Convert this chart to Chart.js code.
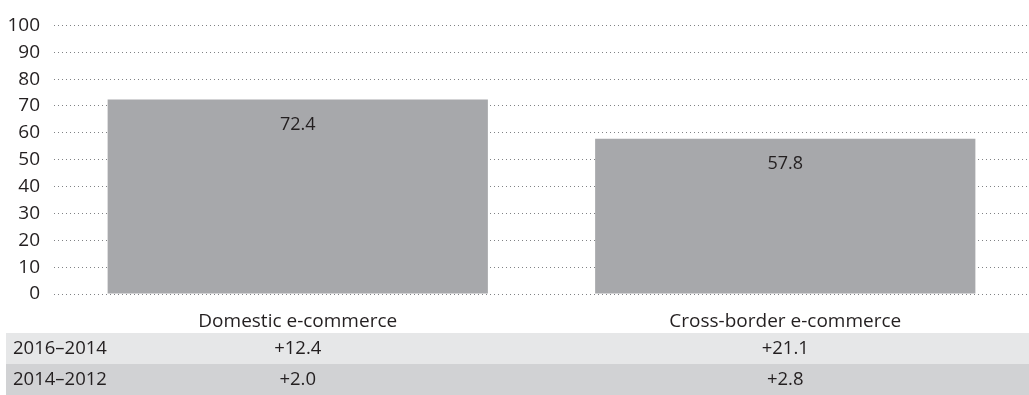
<!DOCTYPE html>
<html>
<head>
<meta charset="utf-8">
<script src="https://cdn.jsdelivr.net/npm/chart.js@4.4.1/dist/chart.umd.min.js"></script>
<style>
  html, body { margin: 0; padding: 0; background: #fff; }
  #wrap { width: 1029px; height: 395px; position: relative; }
</style>
</head>
<body>
<div id="wrap"><canvas id="chart1"></canvas></div>
<script>
  var categorias = ['Domestic e-commerce', 'Cross-border e-commerce']
  var valores = [72.4, 57.8]
  var periodos = ['2016–2014', '2014–2012']
  var variacao_16_14 = ['+12.4', '+21.1']
  var variacao_14_12 = ['+2.0', '+2.8']
  var linhas = [variacao_16_14, variacao_14_12]

  var fonte = "'Open Sans', sans-serif"
  var corTexto = '#231f20'

  // rotulo de valor dentro da barra, perto do topo
  const rotulos = {
    id: 'rotulos',
    afterDatasetsDraw(chart) {
      const ctx = chart.ctx
      const meta = chart.getDatasetMeta(0)
      ctx.save()
      ctx.font = '18px ' + fonte
      ctx.fillStyle = corTexto
      ctx.textAlign = 'center'
      ctx.textBaseline = 'middle'
      meta.data.forEach(function (bar, i) {
        ctx.fillText(valores[i].toFixed(1), bar.x, bar.y + 25)
      })
      ctx.restore()
    }
  }

  // tabela de variacao embaixo do grafico
  const tabela = {
    id: 'tabela',
    afterDraw(chart) {
      const ctx = chart.ctx
      const x = chart.scales.x
      const alturaLinha = 31
      const topo = chart.height - alturaLinha * 2
      const cores = ['#e6e7e8', '#d1d2d4']
      ctx.save()
      ctx.font = '18.5px ' + fonte
      ctx.textBaseline = 'middle'
      periodos.forEach(function (p, r) {
        var y = topo + r * alturaLinha
        ctx.fillStyle = cores[r]
        ctx.fillRect(6, y, chart.width - 6, alturaLinha)
        ctx.fillStyle = corTexto
        ctx.textAlign = 'left'
        ctx.fillText(p, 13, y + alturaLinha / 2)
        ctx.textAlign = 'center'
        linhas[r].forEach(function (v, i) {
          ctx.fillText(v, x.getPixelForValue(i), y + alturaLinha / 2)
        })
      })
      ctx.restore()
    }
  }

  const data = {
    labels: categorias,
    datasets: [{
      data: valores,
      backgroundColor: '#a7a8ab',
      borderWidth: 0,
      barPercentage: 0.78,
      categoryPercentage: 1
    }]
  }

  const config = {
    type: 'bar',
    data,
    options: {
      responsive: true,
      maintainAspectRatio: false,
      animation: false,
      layout: { padding: { top: 16, right: 0, left: 0, bottom: 0 } },
      plugins: {
        legend: { display: false },
        tooltip: { enabled: false }
      },
      scales: {
        x: {
          grid: { display: false },
          border: { display: false },
          ticks: {
            color: corTexto,
            font: { family: fonte, size: 19 },
            padding: 8
          },
          afterFit: function (scale) { scale.height = 101 }
        },
        y: {
          min: 0,
          max: 100,
          ticks: {
            stepSize: 10,
            color: corTexto,
            font: { family: fonte, size: 19 },
            padding: 14
          },
          grid: {
            color: '#808285',
            lineWidth: 1,
            drawTicks: false
          },
          border: { display: false, dash: [1, 3] },
          afterFit: function (scale) { scale.width = 54 }
        }
      }
    },
    plugins: [rotulos, tabela]
  }

  const myChart = new Chart(document.getElementById('chart1'), config)
</script>
</body>
</html>
